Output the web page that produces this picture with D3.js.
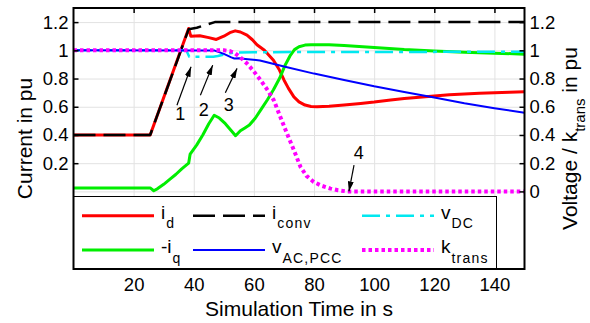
<!DOCTYPE html>
<html>
<head>
<meta charset="utf-8">
<script src="https://cdn.jsdelivr.net/npm/d3@7"></script>
<style>
body { margin: 0; background: #fff; }
text { font-family: "Liberation Sans", Arial, sans-serif; fill: #000; }
</style>
</head>
<body>
<svg id="chart"></svg>
<script>
// ticks
const xTicks = [20, 40, 60, 80, 100, 120, 140];
const leftTicks = [0.2, 0.4, 0.6, 0.8, 1, 1.2];
const rightTicks = [0, 0.2, 0.4, 0.6, 0.8, 1, 1.2];

// series, [time in s, value in pu]
const iD = [[0,0.4],[25.5,0.4],[38.3,1.155],[39,1.1],[42,1.103],[45,1.09],[47.5,1.077],[50,1.1],[52,1.125],[53.8,1.138],[55.5,1.13],[57.7,1.108],[59.5,1.075],[61,1.04],[63.5,1.0],[66.5,0.93],[68.5,0.86],[70,0.79],[71.5,0.73],[73.3,0.67],[75,0.635],[77,0.612],[79,0.602],[81,0.6],[85,0.603],[90,0.612],[95.5,0.623],[100,0.633],[105.5,0.648],[110,0.658],[115,0.668],[120,0.677],[125,0.685],[130,0.69],[135,0.695],[140,0.7],[145,0.703],[150,0.706]];
const iConv = [[0,0.4],[25.5,0.4],[38.3,1.15],[41,1.16],[44,1.18],[47,1.2],[150,1.2]];
const iQneg = [[0,0.025],[25.5,0.025],[26.7,0.005],[28,0.02],[30,0.05],[32,0.085],[34,0.12],[36,0.16],[38.3,0.2],[38.8,0.265],[41,0.33],[43,0.4],[45,0.48],[46.8,0.54],[48.5,0.52],[50.5,0.48],[52.5,0.43],[53.9,0.395],[55.5,0.43],[57,0.45],[58.5,0.47],[60.5,0.52],[62.5,0.585],[64.5,0.65],[66.5,0.72],[68.5,0.8],[70.5,0.9],[72,0.96],[73.5,1.005],[75,1.025],[77,1.037],[79,1.04],[85,1.04],[90,1.035],[100,1.02],[110,1.005],[120,0.996],[130,0.987],[140,0.98],[150,0.973]];
const vAcPcc = [[0,1.0],[47,0.998],[50,0.975],[52.5,0.95],[53.5,0.942],[55,0.943],[58,0.937],[62,0.928],[70,0.885],[80,0.835],[90,0.79],[100,0.745],[110,0.705],[120,0.665],[130,0.625],[140,0.59],[150,0.557]];
const vDc = [[0,1.0],[37.5,1.0],[38.5,0.955],[46.5,0.955],[48,0.96],[50,0.97],[52,0.98],[54,0.985],[60,0.987],[150,0.99]];
const kTrans = [[0,1],[50,1],[52,0.995],[53.8,0.978],[55.5,0.95],[57.7,0.907],[60,0.85],[62.2,0.789],[64.5,0.72],[66.6,0.647],[68.8,0.528],[71,0.41],[73.3,0.292],[75.5,0.174],[77.5,0.11],[79.9,0.067],[82.5,0.04],[85.5,0.02],[88,0.008],[91,0],[150,0]];

// annotations: label, label anchor, arrow tail, arrow tip (data units)
const annLabels = ["1", "2", "3", "4"];
const annText = [[35.5,0.505],[43.3,0.533],[51.6,0.568],[94.9,0.233]];
const annTail = [[34.4,0.611],[42.2,0.682],[50.5,0.7],[93.3,0.186]];
const annTip = [[39.1,0.883],[46.3,0.895],[54.4,0.872],[91.6,0.0]];

const width = 590, height = 323;
const mLeft = 73.5, mRight = 524.5, mTop = 8, mBottom = 269;

const svg = d3.select("#chart").attr("width", width).attr("height", height);

const x = d3.scaleLinear().domain([0, 150]).range([mLeft, mRight]);
const y = d3.scaleLinear().domain([-0.55, 1.3]).range([mBottom, mTop]);

// grid
svg.append("g")
  .attr("transform", `translate(0, ${mBottom})`)
  .call(d3.axisBottom(x).tickValues(xTicks).tickSize(-(mBottom - mTop)).tickFormat(""))
  .call(g => g.select(".domain").remove())
  .call(g => g.selectAll("line").attr("stroke", "#e2e2e2"));
svg.append("g")
  .attr("transform", `translate(${mLeft}, 0)`)
  .call(d3.axisLeft(y).tickValues(rightTicks).tickSize(-(mRight - mLeft)).tickFormat(""))
  .call(g => g.select(".domain").remove())
  .call(g => g.selectAll("line").attr("stroke", "#e2e2e2"));

// lines
const line = d3.line().x(d => x(d[0])).y(d => y(d[1]));
const series = [
  { data: iD, color: "#ff0000", w: 3, dash: null },
  { data: iQneg, color: "#00ee00", w: 3, dash: null },
  { data: iConv, color: "#000000", w: 2.5, dash: "22,8" },
  { data: vDc, color: "#00e8f0", w: 2.5, dash: "18,6,4,6" },
  { data: vAcPcc, color: "#0000ff", w: 2, dash: null },
  { data: kTrans, color: "#ff00ff", w: 4, dash: "3.5,3" }
];
svg.append("g")
  .selectAll("path")
  .data(series)
  .enter()
  .append("path")
  .attr("d", d => line(d.data))
  .attr("fill", "none")
  .attr("stroke", d => d.color)
  .attr("stroke-width", d => d.w)
  .attr("stroke-dasharray", d => d.dash)
  .attr("stroke-linejoin", "round");

// arrows
svg.append("defs").append("marker")
  .attr("id", "head")
  .attr("markerUnits", "userSpaceOnUse")
  .attr("viewBox", "0 0 10 6")
  .attr("refX", 10).attr("refY", 3)
  .attr("markerWidth", 10).attr("markerHeight", 6)
  .attr("orient", "auto")
  .append("path").attr("d", "M0,0L10,3L0,6Z").attr("fill", "#000");

svg.append("g")
  .selectAll("line")
  .data(annLabels)
  .enter()
  .append("line")
  .attr("x1", (d, i) => x(annTail[i][0]))
  .attr("y1", (d, i) => y(annTail[i][1]))
  .attr("x2", (d, i) => x(annTip[i][0]))
  .attr("y2", (d, i) => y(annTip[i][1]))
  .attr("stroke", "#000")
  .attr("stroke-width", 1.2)
  .attr("marker-end", "url(#head)");
svg.append("g")
  .selectAll("text")
  .data(annLabels)
  .enter()
  .append("text")
  .attr("x", (d, i) => x(annText[i][0]))
  .attr("y", (d, i) => y(annText[i][1]))
  .style("text-anchor", "middle")
  .style("font-size", "18px")
  .text(d => d);

// legend
const lg = svg.append("g");
lg.append("rect")
  .attr("x", mLeft).attr("y", 196.5)
  .attr("width", 423).attr("height", mBottom - 196.5)
  .attr("fill", "#fff").attr("stroke", "#000").attr("stroke-width", 1);

const legendItems = [
  { main: "i", sub: "d", s: series[0], lx: 82, row: 0 },
  { main: "-i", sub: "q", s: series[1], lx: 82, row: 1 },
  { main: "i", sub: "conv", s: series[2], lx: 193, row: 0 },
  { main: "v", sub: "AC,PCC", s: series[4], lx: 193, row: 1 },
  { main: "v", sub: "DC", s: series[3], lx: 362, row: 0 },
  { main: "k", sub: "trans", s: series[5], lx: 362, row: 1 }
];
const rowY = [215.7, 250];
legendItems.forEach(it => {
  const ly = rowY[it.row];
  lg.append("line")
    .attr("x1", it.lx).attr("x2", it.lx + 72)
    .attr("y1", ly).attr("y2", ly)
    .attr("stroke", it.s.color)
    .attr("stroke-width", it.s.w)
    .attr("stroke-dasharray", it.s.dash);
  const t = lg.append("text")
    .attr("x", it.lx + 79)
    .attr("y", ly + 3)
    .style("font-size", "19px");
  t.append("tspan").text(it.main);
  t.append("tspan")
    .attr("dy", 9.5)
    .attr("dx", 1)
    .style("font-size", "14px")
    .style("letter-spacing", "1.2px")
    .text(it.sub);
});

// axes
svg.append("g")
  .attr("transform", `translate(0, ${mBottom})`)
  .call(d3.axisBottom(x).tickValues(xTicks).tickSize(0).tickPadding(9))
  .call(g => g.select(".domain").remove())
  .call(g => g.selectAll("text").style("font-size", "18.5px"));
svg.append("g")
  .attr("transform", `translate(0, ${mTop})`)
  .call(d3.axisTop(x).tickValues(xTicks).tickSize(-5).tickFormat(""))
  .call(g => g.select(".domain").remove())
  .call(g => g.selectAll("line").attr("stroke", "#000").attr("stroke-width", 1.5));
svg.append("g")
  .attr("transform", `translate(${mLeft}, 0)`)
  .call(d3.axisLeft(y).tickValues(leftTicks).tickSize(-5).tickPadding(5).tickFormat(d => String(d)))
  .call(g => g.select(".domain").remove())
  .call(g => g.selectAll("line").attr("stroke", "#000").attr("stroke-width", 1.5))
  .call(g => g.selectAll("text").style("font-size", "18.5px"));
svg.append("g")
  .attr("transform", `translate(${mRight}, 0)`)
  .call(d3.axisRight(y).tickValues(rightTicks).tickSize(-5).tickPadding(5).tickFormat(d => String(d)))
  .call(g => g.select(".domain").remove())
  .call(g => g.selectAll("line").attr("stroke", "#000").attr("stroke-width", 1.5))
  .call(g => g.selectAll("text").style("font-size", "18.5px"));

// frame
svg.append("rect")
  .attr("x", mLeft).attr("y", mTop)
  .attr("width", mRight - mLeft).attr("height", mBottom - mTop)
  .attr("fill", "none").attr("stroke", "#000").attr("stroke-width", 2);

// axis titles
svg.append("text")
  .attr("x", (mLeft + mRight) / 2)
  .attr("y", 316)
  .style("text-anchor", "middle")
  .style("font-size", "21px")
  .text("Simulation Time in s");
svg.append("text")
  .attr("transform", `translate(32, ${(mTop + mBottom) / 2}) rotate(-90)`)
  .style("text-anchor", "middle")
  .style("font-size", "21px")
  .text("Current in pu");
const rl = svg.append("text")
  .attr("transform", `translate(577, ${(mTop + mBottom) / 2}) rotate(-90)`)
  .style("text-anchor", "middle")
  .style("font-size", "21px");
rl.append("tspan").text("Voltage / k");
rl.append("tspan").attr("dy", 8).style("font-size", "15px").text("trans");
rl.append("tspan").attr("dy", -8).text(" in pu");
</script>
</body>
</html>
